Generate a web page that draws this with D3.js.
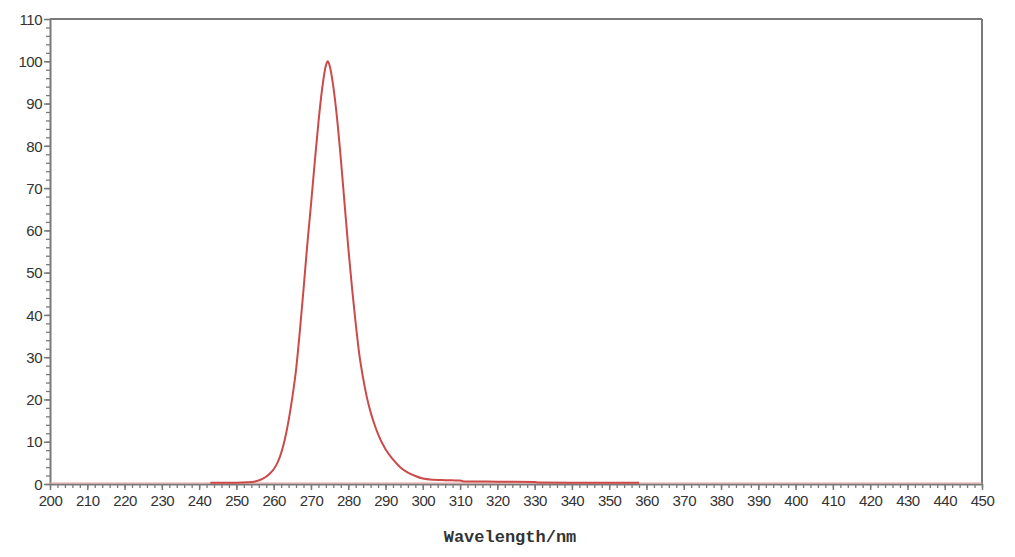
<!DOCTYPE html>
<html>
<head>
<meta charset="utf-8">
<script src="https://cdn.jsdelivr.net/npm/d3@7"></script>
<style>
  body { margin: 0; background: #fff; }
  svg { display: block; }
</style>
</head>
<body>
<svg id="chart" width="1015" height="557"></svg>
<script>
// ---- data ----
const wavelength = [243, 245, 250, 253, 255, 257, 259, 260, 261, 262, 263, 264, 265, 266, 267, 268, 269, 270, 271, 272, 273, 274, 274.5, 275, 276, 277, 278, 279, 280, 281, 282, 283, 284, 285, 286, 287, 288, 290, 292, 294, 296, 298, 300, 303, 306, 310, 311, 320, 330, 331, 340, 350, 358];
const intensity  = [0.3, 0.3, 0.3, 0.4, 0.6, 1.2, 2.5, 3.5, 5.0, 7.3, 10.6, 15.0, 20.5, 27, 36, 46, 56.5, 66, 76, 85.5, 93.5, 99, 100, 99, 94, 86.5, 77, 66.5, 56, 46.5, 38, 30.5, 25, 20.5, 17, 14.2, 11.8, 8.2, 5.8, 3.9, 2.7, 1.9, 1.3, 1.0, 0.9, 0.8, 0.6, 0.55, 0.5, 0.35, 0.3, 0.3, 0.3];
const xTicks = d3.range(200, 451, 10);
const yTicks = d3.range(0, 111, 10);
const xMinor = d3.range(200, 451, 2);
const yMinor = d3.range(0, 111, 2);
const xTitle = "Wavelength/nm";

// ---- layout ----
const L = 50, R = 982, T = 19, B = 484;
const svg = d3.select("#chart");
const x = d3.scaleLinear().domain([200, 450]).range([L, R]);
const y = d3.scaleLinear().domain([0, 110]).range([B, T]);
const axisColor = "#7a7a7a";

// frame top/right
svg.append("line").attr("x1", L).attr("x2", R).attr("y1", T).attr("y2", T)
  .attr("stroke", axisColor).attr("stroke-width", 2);
svg.append("line").attr("x1", R).attr("x2", R).attr("y1", T).attr("y2", B)
  .attr("stroke", axisColor).attr("stroke-width", 2);

// minor ticks
svg.append("g").attr("transform", `translate(0,${B})`)
  .call(d3.axisBottom(x).tickValues(xMinor).tickSize(4).tickFormat(""))
  .call(g => g.select(".domain").remove())
  .call(g => g.selectAll("line").attr("stroke", axisColor).attr("stroke-width", 1.3));
svg.append("g").attr("transform", `translate(${L},0)`)
  .call(d3.axisLeft(y).tickValues(yMinor).tickSize(4).tickFormat(""))
  .call(g => g.select(".domain").remove())
  .call(g => g.selectAll("line").attr("stroke", axisColor).attr("stroke-width", 1.3));

// major axes
const xAxis = svg.append("g").attr("transform", `translate(0,${B})`)
  .call(d3.axisBottom(x).tickValues(xTicks).tickSize(6).tickSizeOuter(0).tickPadding(5));
const yAxis = svg.append("g").attr("transform", `translate(${L},0)`)
  .call(d3.axisLeft(y).tickValues(yTicks).tickSize(6).tickSizeOuter(0).tickPadding(2));
[xAxis, yAxis].forEach(g => {
  g.select(".domain").attr("stroke", axisColor).attr("stroke-width", 2);
  g.selectAll(".tick line").attr("stroke", axisColor).attr("stroke-width", 1.5);
  g.selectAll("text").attr("fill", "#333").style("font-family", "'Liberation Sans', Arial, sans-serif")
    .style("font-size", "15px").style("letter-spacing", "-0.5px");
});
yAxis.selectAll("text").attr("dy", "0.35em");

// baseline pink line
svg.append("line").attr("x1", x(200)).attr("x2", x(450)).attr("y1", y(0) - 1).attr("y2", y(0) - 1)
  .attr("stroke", "#e6a0a0").attr("stroke-width", 1.2);

// curve
const pts = wavelength.map((w, i) => [w, intensity[i]]);
const line = d3.line().x(d => x(d[0])).y(d => y(d[1])).curve(d3.curveMonotoneX);
svg.append("path").datum(pts).attr("d", line)
  .attr("fill", "none").attr("stroke", "#cc4a4a").attr("stroke-width", 2)
  .attr("stroke-linejoin", "round");

// axis title
svg.append("text").attr("x", 510).attr("y", 542).attr("text-anchor", "middle")
  .attr("fill", "#333").style("font-family", "'Liberation Mono', 'Courier New', monospace")
  .style("font-weight", "bold").style("font-size", "17px")
  .text(xTitle);
</script>
</body>
</html>
